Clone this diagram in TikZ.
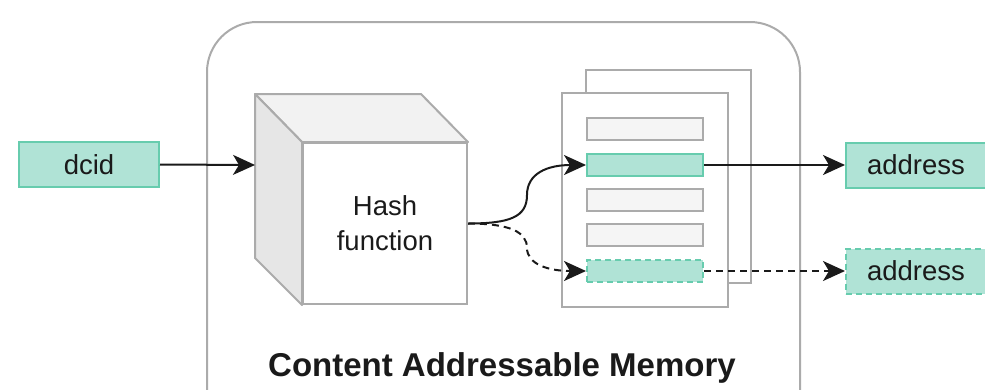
\documentclass[tikz,border=0pt]{standalone}
\usepackage{fontspec}
\setmainfont{Liberation Sans}
\usetikzlibrary{arrows.meta}
\definecolor{tealfill}{HTML}{B0E3D6}
\definecolor{tealline}{HTML}{67CCAE}
\definecolor{grayline}{HTML}{ABABAB}
\definecolor{rowfill}{HTML}{F5F5F5}
\definecolor{topfill}{HTML}{F2F2F2}
\definecolor{sidefill}{HTML}{E6E6E6}
\definecolor{ink}{HTML}{1A1A1A}
\begin{document}
\begin{tikzpicture}[x=1pt,y=-1pt,
  tealbox/.style={draw=tealline,fill=tealfill,line width=2pt,minimum width=140pt,minimum height=45pt,inner sep=0pt,font=\fontsize{27.5}{32}\selectfont,text=ink},
  rowbox/.style={draw=grayline,fill=rowfill,line width=2pt,minimum width=116pt,minimum height=22pt,inner sep=0pt},
  graybox/.style={draw=grayline,line width=2pt},
  conn/.style={draw=ink,line width=2pt,-{Stealth[length=22pt,width=20pt,inset=6pt]}},
  dashconn/.style={conn,dash pattern=on 7pt off 5pt},
  dashbox/.style={dash pattern=on 6pt off 4pt}]
\useasboundingbox (0,0) rectangle (985,389);
\clip (0,0) rectangle (985,389);
% outer container
\draw[graybox,rounded corners=50pt] (207,22) rectangle (800,440);
\node[anchor=base,font=\bfseries\fontsize{33}{38}\selectfont,text=ink] (title) at (502,376) {Content Addressable Memory};
% cube
\draw[graybox,fill=topfill,line join=round] (255,94) -- (421,94) -- (468,142) -- (302,142) -- cycle;
\draw[graybox,fill=sidefill,line join=round] (255,94) -- (302,142) -- (302,305) -- (255,258) -- cycle;
\node[graybox,fill=white,minimum width=164pt,minimum height=161pt,inner sep=0pt,align=center,font=\fontsize{27.5}{35}\selectfont,text=ink] (front) at (385,223.5) {Hash\\function};
\coordinate (cubeleft) at (255,165);
% pages
\draw[graybox,fill=white] (586,70) rectangle (751,283);
\draw[graybox,fill=white] (562,93) rectangle (728,307);
\node[rowbox] (row1) at (645,129) {};
\node[rowbox,draw=tealline,fill=tealfill] (row2) at (645,165) {};
\node[rowbox] (row3) at (645,200) {};
\node[rowbox] (row4) at (645,235) {};
\node[rowbox,draw=tealline,fill=tealfill,dashbox] (row5) at (645,271) {};
% io boxes
\node[tealbox] (dcid) at (89,164.5) {dcid};
\node[tealbox] (addr1) at (916,165) {address};
\node[tealbox,dashbox] (addr2) at (916,271) {address};
% connectors
\coordinate (m1) at (527,195);
\coordinate (m2) at (527,248);
\draw[conn] (dcid.east) -- (cubeleft);
\draw[conn] (front.east) .. controls +(42,0) and +(0,22) .. (m1) .. controls +(0,-22) and +(-38,0) .. (row2.west);
\draw[dashconn] (front.east) .. controls +(42,0) and +(0,-16) .. (m2) .. controls +(0,16) and +(-38,0) .. (row5.west);
\draw[conn] (row2.east) -- (addr1.west);
\draw[dashconn] (row5.east) -- (addr2.west);
\end{tikzpicture}
\end{document}
